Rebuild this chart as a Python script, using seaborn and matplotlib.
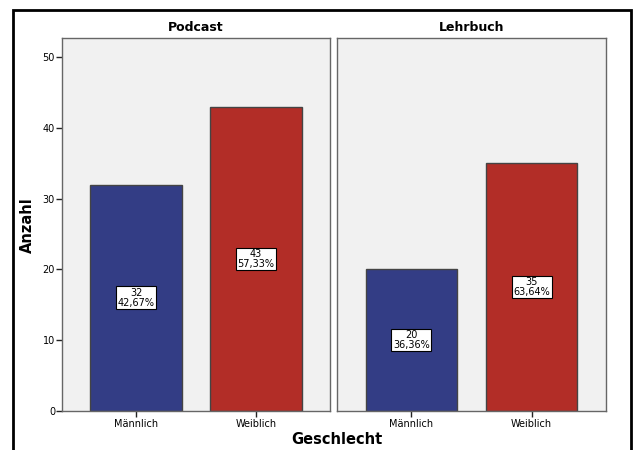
import numpy as np
import matplotlib
matplotlib.use("Agg")
import matplotlib.pyplot as plt
import pandas as pd
import seaborn as sns
from matplotlib.patches import Rectangle

groups = ["Podcast", "Lehrbuch"]
genders = ["Männlich", "Weiblich"]
counts_podcast = [32, 43]
counts_lehrbuch = [20, 35]
pct_podcast = ["42,67%", "57,33%"]
pct_lehrbuch = ["36,36%", "63,64%"]

colors = ["#333d85", "#b22d27"]

sns.set_style("white")
plt.rcParams["font.family"] = ["DejaVu Sans"]
plt.rcParams["text.color"] = "black"
plt.rcParams["xtick.color"] = "black"
plt.rcParams["ytick.color"] = "black"

fig = plt.figure(figsize=(6.34, 4.5), dpi=100)
ax1 = fig.add_axes([62 / 634, 1 - 411 / 450, 268 / 634, 373 / 450])
ax2 = fig.add_axes([337 / 634, 1 - 411 / 450, 269 / 634, 373 / 450], sharey=ax1)

for ax, grp, cnt, pct in [(ax1, groups[0], counts_podcast, pct_podcast),
                          (ax2, groups[1], counts_lehrbuch, pct_lehrbuch)]:
    df = pd.DataFrame({"Geschlecht": genders, "Anzahl": cnt})
    sns.barplot(data=df, x="Geschlecht", y="Anzahl", hue="Geschlecht",
                palette=colors, saturation=1, width=0.76, edgecolor="#444444",
                linewidth=1, legend=False, ax=ax)
    ax.set_facecolor("#f1f1f1")
    for sp in ax.spines.values():
        sp.set_color("#666666")
        sp.set_linewidth(1)
    ax.set_xlim(-0.617, 1.617)
    ax.set_ylim(0, 52.7)
    ax.set_title(grp, fontsize=9, fontweight="bold", pad=5, color="black")
    ax.set_xlabel("")
    ax.set_ylabel("")
    ax.tick_params(axis="x", length=4, width=1, color="#222222", labelsize=7, pad=2, bottom=True)
    for i, (c, p) in enumerate(zip(cnt, pct)):
        ax.text(i, c / 2, f"{c}\n{p}", ha="center", va="center", fontsize=7,
                linespacing=0.95, color="black",
                bbox=dict(boxstyle="square,pad=0.15", fc="white", ec="black", lw=0.8))

ax1.set_yticks([0, 10, 20, 30, 40, 50])
ax1.tick_params(axis="y", length=4, width=1, color="#222222", labelsize=7, pad=1, left=True)
ax2.tick_params(axis="y", left=False, labelleft=False)

fig.text(27 / 634, 1 - 225 / 450, "Anzahl", rotation=90, ha="center", va="center",
         fontsize=10.5, fontweight="bold")
fig.text(337 / 634, 1 - 440 / 450, "Geschlecht", ha="center", va="center",
         fontsize=10.5, fontweight="bold")

fig.patches.append(Rectangle((13 / 634, -0.05), 618 / 634, 1.05 - 10 / 450,
                             transform=fig.transFigure, fill=False,
                             edgecolor="black", linewidth=2, zorder=10))

fig.savefig("out.png", dpi=100)
